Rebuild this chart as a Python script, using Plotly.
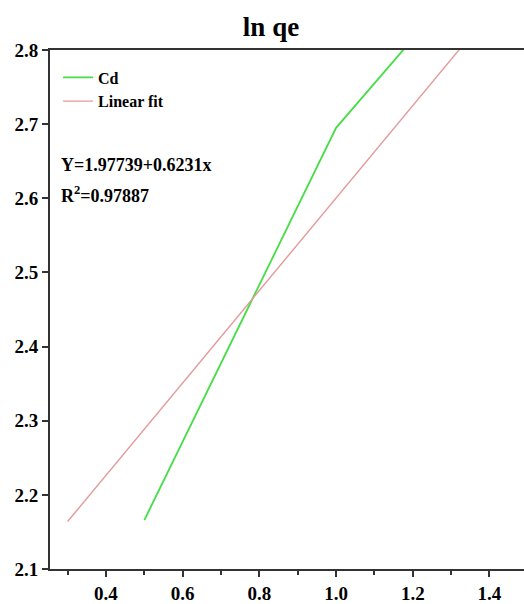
import plotly.graph_objects as go

# Data
cd_x = [0.5, 1.0, 1.5]
cd_y = [2.166, 2.695, 2.995]

fit_x = [0.3, 1.5]
fit_y = [2.164, 2.912]

x_range = [0.254, 1.49]
y_range = [2.1, 2.8]
x_tickvals = [0.4, 0.6, 0.8, 1.0, 1.2, 1.4]
x_ticktext = ["0.4", "0.6", "0.8", "1.0", "1.2", "1.4"]
x_minor = [0.3, 0.5, 0.7, 0.9, 1.1, 1.3]
y_tickvals = [2.1, 2.2, 2.3, 2.4, 2.5, 2.6, 2.7, 2.8]
y_ticktext = ["2.1", "2.2", "2.3", "2.4", "2.5", "2.6", "2.7", "2.8"]

title_text = "ln qe"
eq_text = "Y=1.97739+0.6231x"
r2_text = "R<sup>2</sup>=0.97887"

FONT = "Liberation Serif"
AX = "#333333"

fig = go.Figure()
fig.add_trace(go.Scatter(x=cd_x, y=cd_y, mode="lines", name="Cd",
                         line=dict(color="#45de45", width=1.8)))
fig.add_trace(go.Scatter(x=fit_x, y=fit_y, mode="lines", name="Linear fit",
                         line=dict(color="#e39a9a", width=1.4)))

tickf = dict(family=FONT, size=19, color="black", weight="bold")

fig.update_layout(
    width=524, height=604,
    margin=dict(l=50, r=0, t=50, b=32),
    plot_bgcolor="white", paper_bgcolor="white",
    title=dict(text=title_text, x=271 / 524, xref="container",
               y=1 - 27 / 604, yanchor="middle",
               font=dict(family=FONT, size=27, color="black", weight="bold")),
    showlegend=True,
    legend=dict(x=0.017, y=0.98, xanchor="left", yanchor="top",
                bgcolor="rgba(0,0,0,0)",
                font=dict(family=FONT, size=16, color="black", weight="bold"),
                tracegroupgap=0),
    xaxis=dict(range=x_range, tickvals=x_tickvals, ticktext=x_ticktext,
               showgrid=False, zeroline=False, showline=True, linecolor=AX, linewidth=2,
               mirror=True, ticks="outside", ticklen=6, tickwidth=2, tickcolor=AX,
               tickfont=tickf,
               minor=dict(tickvals=x_minor, ticks="outside",
                          ticklen=4, tickwidth=2, tickcolor=AX)),
    yaxis=dict(range=y_range, tickvals=y_tickvals, ticktext=y_ticktext,
               showgrid=False, zeroline=False, showline=True, linecolor=AX, linewidth=2,
               ticks="outside", ticklen=6, tickwidth=2, tickcolor=AX,
               tickfont=tickf),
)

fig.add_annotation(x=0.02, y=2.645, xref="paper", yref="y", xanchor="left", yanchor="middle",
                   text=eq_text, showarrow=False,
                   font=dict(family=FONT, size=18, color="black", weight="bold"))
fig.add_annotation(x=0.02, y=2.605, xref="paper", yref="y", xanchor="left", yanchor="middle",
                   text=r2_text, showarrow=False,
                   font=dict(family=FONT, size=18, color="black", weight="bold"))

fig.write_html("out.html", config={"displayModeBar": False},
               post_script="document.body.style.margin='0';")
